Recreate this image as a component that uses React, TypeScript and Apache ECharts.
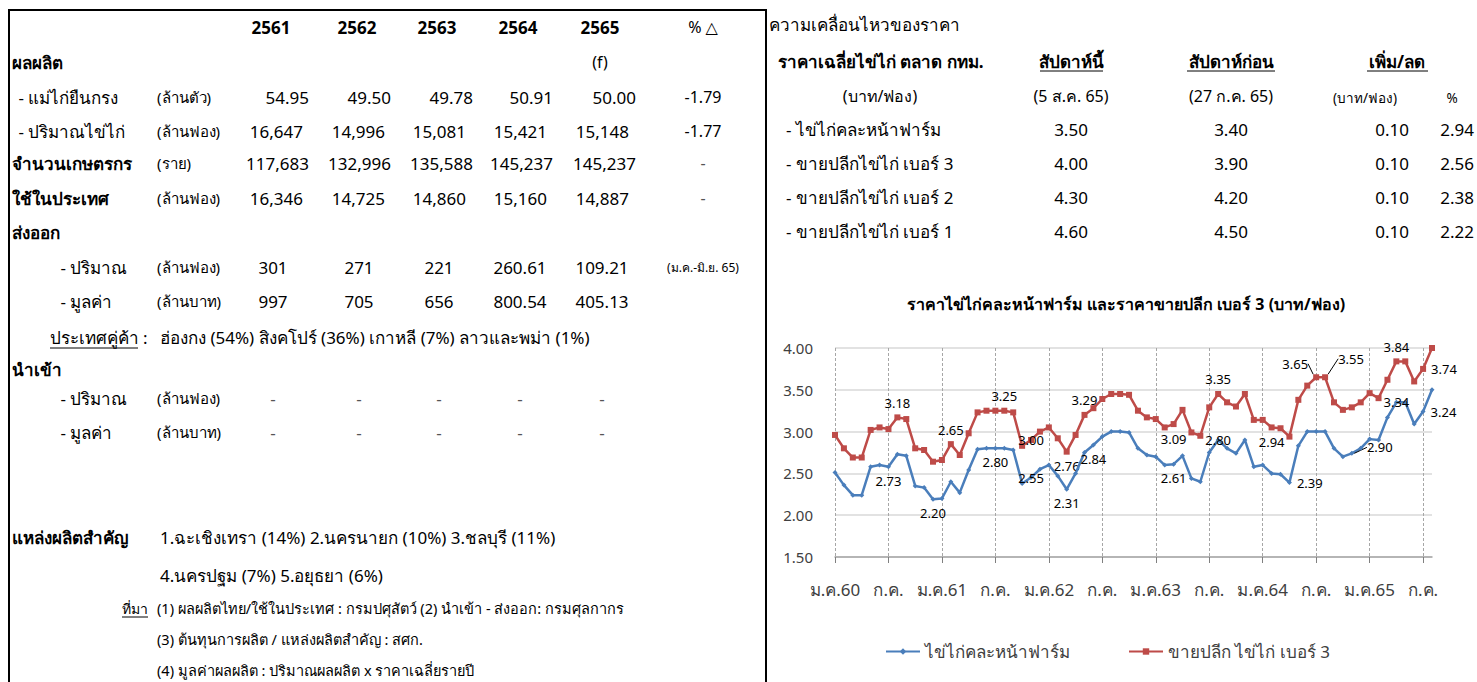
import React, { useEffect, useRef } from "react";
import * as echarts from "echarts";

const FONT = 'Tahoma, "Noto Sans", "DejaVu Sans", sans-serif';

// ---------- chart data ----------
const monthNames = ["ม.ค.", "ก.พ.", "มี.ค.", "เม.ย.", "พ.ค.", "มิ.ย.", "ก.ค.", "ส.ค.", "ก.ย.", "ต.ค.", "พ.ย.", "ธ.ค."];
const yearNames = ["60", "61", "62", "63", "64", "65"];
const monthCount = 68;
const categories: string[] = [];
for (let i = 0; i < monthCount; i++) {
  categories.push(monthNames[i % 12] + yearNames[Math.floor(i / 12)]);
}

const farmPrice = [
  2.51, 2.36, 2.24, 2.24, 2.58, 2.60, 2.58, 2.73, 2.71, 2.35, 2.33, 2.19,
  2.20, 2.40, 2.27, 2.54, 2.79, 2.80, 2.80, 2.80, 2.78, 2.38, 2.45, 2.55,
  2.60, 2.47, 2.31, 2.50, 2.75, 2.84, 2.94, 3.00, 3.00, 2.99, 2.80, 2.72,
  2.70, 2.60, 2.61, 2.71, 2.44, 2.40, 2.75, 2.90, 2.80, 2.74, 2.90, 2.58,
  2.60, 2.50, 2.49, 2.39, 2.83, 3.00, 3.00, 3.00, 2.80, 2.70, 2.74, 2.80,
  2.91, 2.90, 3.17, 3.35, 3.35, 3.09, 3.24, 3.50,
];
const retailNo3 = [
  2.96, 2.80, 2.69, 2.69, 3.02, 3.05, 3.03, 3.17, 3.15, 2.80, 2.78, 2.64,
  2.66, 2.85, 2.72, 2.98, 3.23, 3.25, 3.25, 3.25, 3.23, 2.83, 2.90, 3.00,
  3.05, 2.92, 2.76, 2.96, 3.20, 3.28, 3.39, 3.45, 3.45, 3.44, 3.25, 3.17,
  3.15, 3.05, 3.09, 3.26, 2.99, 2.95, 3.29, 3.45, 3.35, 3.30, 3.45, 3.14,
  3.14, 3.05, 3.04, 2.94, 3.38, 3.55, 3.65, 3.65, 3.35, 3.26, 3.29, 3.35,
  3.46, 3.40, 3.62, 3.84, 3.84, 3.60, 3.75, 4.00,
];

// data labels shown on the chart (index -> text)
const farmLabelIdx = [6, 11, 18, 22, 26, 29, 38, 43, 51, 58, 63, 66];
const farmLabelText = ["2.73", "2.20", "2.80", "2.55", "2.31", "2.84", "2.61", "2.80", "2.39", "2.90", "3.34", "3.24"];
const retailLabelIdx = [7, 13, 19, 22, 26, 28, 38, 43, 49, 54, 55, 63, 66];
const retailLabelText = ["3.18", "2.65", "3.25", "3.00", "2.76", "3.29", "3.09", "3.35", "2.94", "3.65", "3.55", "3.84", "3.74"];

// label placement (styling)
const farmLabelPos: any[] = [
  ["bottom", [0, 0]], ["bottom", [-3, 0]], ["bottom", [0, 8]], ["inside", [5, 3]],
  ["bottom", [4, 0]], ["bottom", [4, 5]], ["bottom", [3, 0]], ["inside", [2, 0]],
  ["right", [8, 0]], ["top", [0, 0], [28, 8]], ["inside", [3, -4]], ["right", [0, 13]],
];
const retailLabelPos: any[] = [
  ["top", [3, 0]], ["top", [3, 7]], ["top", [0, 0]], ["inside", [2, 0]],
  ["bottom", [0, 0]], ["top", [-2, -3]], ["bottom", [0, 0]], ["top", [4, 0]],
  ["bottom", [-2, 0]], ["top", [0, 0], [-21, 1]], ["top", [0, 0], [26, -4]],
  ["top", [6, 0]], ["right", [0, 7]],
];

// ---------- left table data ----------
const yearHeads = ["2561", "2562", "2563", "2564", "2565"];
const henValues = ["54.95", "49.50", "49.78", "50.91", "50.00"];
const eggValues = ["16,647", "14,996", "15,081", "15,421", "15,148"];
const farmerValues = ["117,683", "132,996", "135,588", "145,237", "145,237"];
const domesticValues = ["16,346", "14,725", "14,860", "15,160", "14,887"];
const exportQty = ["301", "271", "221", "260.61", "109.21"];
const exportVal = ["997", "705", "656", "800.54", "405.13"];
const importQty = ["-", "-", "-", "-", "-"];
const importVal = ["-", "-", "-", "-", "-"];
const pctChange = ["-1.79", "-1.77", "-", "-"];

// ---------- right table data ----------
const priceItems = ["- ไข่ไก่คละหน้าฟาร์ม", "- ขายปลีกไข่ไก่ เบอร์ 3", "- ขายปลีกไข่ไก่ เบอร์ 2", "- ขายปลีกไข่ไก่ เบอร์ 1"];
const thisWeek = ["3.50", "4.00", "4.30", "4.60"];
const lastWeek = ["3.40", "3.90", "4.20", "4.50"];
const diffBaht = ["0.10", "0.10", "0.10", "0.10"];
const diffPct = ["2.94", "2.56", "2.38", "2.22"];

// ---------- helpers ----------
function T(x: number, y: number, text: string, o: any = {}) {
  return {
    type: "text",
    x,
    y,
    silent: true,
    style: {
      text,
      fill: o.fill || "#000",
      fontSize: o.size || 17,
      fontWeight: o.bold ? "bold" : "normal",
      fontFamily: FONT,
      textAlign: o.align || "left",
      textVerticalAlign: "middle",
    },
  };
}
function L(x1: number, y1: number, x2: number, y2: number, w = 1) {
  return {
    type: "line",
    silent: true,
    shape: { x1, y1, x2, y2 },
    style: { stroke: "#000", lineWidth: w },
  };
}

function buildGraphic() {
  const g: any[] = [];
  // borders
  g.push(L(8, 10, 767, 10, 2));
  g.push(L(9, 10, 9, 682, 2));
  g.push(L(766, 10, 766, 682, 2));

  const C = [271, 357, 437, 518, 600];
  const RA = [303, 385, 466, 547, 629];
  const RB = [309, 391, 473, 553, 636];
  const P = 703;

  yearHeads.forEach((t, i) => g.push(T(C[i], 27, t, { bold: true, align: "center" })));
  g.push(T(P, 27, "% △", { align: "center", size: 16 }));

  g.push(T(12, 62, "ผลผลิต", { bold: true }));
  g.push(T(600, 62, "(f)", { align: "center", size: 16 }));

  g.push(T(14, 97, " - แม่ไก่ยืนกรง"));
  g.push(T(157, 97, "(ล้านตัว)", { size: 15 }));
  henValues.forEach((t, i) => g.push(T(RB[i], 97, t, { align: "right" })));
  g.push(T(P, 97, pctChange[0], { align: "center", size: 16 }));

  g.push(T(14, 131, " - ปริมาณไข่ไก่"));
  g.push(T(157, 131, "(ล้านฟอง)", { size: 15 }));
  eggValues.forEach((t, i) => g.push(T(RA[i], 131, t, { align: "right" })));
  g.push(T(P, 131, pctChange[1], { align: "center", size: 16 }));

  g.push(T(12, 163, "จำนวนเกษตรกร", { bold: true }));
  g.push(T(157, 163, "(ราย)", { size: 15 }));
  farmerValues.forEach((t, i) => g.push(T(RB[i], 163, t, { align: "right" })));
  g.push(T(P, 163, pctChange[2], { align: "center", size: 16, fill: "#555" }));

  g.push(T(12, 198, "ใช้ในประเทศ", { bold: true }));
  g.push(T(157, 198, "(ล้านฟอง)", { size: 15 }));
  domesticValues.forEach((t, i) => g.push(T(RA[i], 198, t, { align: "right" })));
  g.push(T(P, 198, pctChange[3], { align: "center", size: 16, fill: "#555" }));

  g.push(T(12, 232, "ส่งออก", { bold: true }));
  g.push(T(56, 267, " - ปริมาณ"));
  g.push(T(157, 267, "(ล้านฟอง)", { size: 15 }));
  exportQty.forEach((t, i) => g.push(T(C[i] + 2, 267, t, { align: "center" })));
  g.push(T(P, 267, "(ม.ค.-มิ.ย. 65)", { align: "center", size: 12 }));

  g.push(T(56, 301, " - มูลค่า"));
  g.push(T(157, 301, "(ล้านบาท)", { size: 15 }));
  exportVal.forEach((t, i) => g.push(T(C[i] + 2, 301, t, { align: "center" })));

  g.push(T(50, 337, "ประเทศคู่ค้า", {}));
  g.push(L(50, 348, 138, 348, 1));
  g.push(T(143, 337, ":", {}));
  g.push(T(160, 337, "ฮ่องกง (54%) สิงคโปร์ (36%) เกาหลี (7%) ลาวและพม่า (1%)"));

  g.push(T(12, 369, "นำเข้า", { bold: true }));
  g.push(T(56, 398, " - ปริมาณ"));
  g.push(T(157, 398, "(ล้านฟอง)", { size: 15 }));
  importQty.forEach((t, i) => g.push(T(C[i] + 2, 398, t, { align: "center", fill: "#555" })));
  g.push(T(56, 432, " - มูลค่า"));
  g.push(T(157, 432, "(ล้านบาท)", { size: 15 }));
  importVal.forEach((t, i) => g.push(T(C[i] + 2, 432, t, { align: "center", fill: "#555" })));

  g.push(T(12, 537, "แหล่งผลิตสำคัญ", { bold: true }));
  g.push(T(160, 537, "1.ฉะเชิงเทรา (14%) 2.นครนายก (10%) 3.ชลบุรี (11%)"));
  g.push(T(160, 575, "4.นครปฐม (7%) 5.อยุธยา (6%)"));

  g.push(T(122, 608, "ที่มา", { size: 14 }));
  g.push(L(122, 617, 148, 617, 1));
  g.push(T(157, 608, "(1) ผลผลิตไทย/ใช้ในประเทศ : กรมปศุสัตว์ (2) นำเข้า - ส่งออก: กรมศุลกากร", { size: 14.5 }));
  g.push(T(157, 639, "(3) ต้นทุนการผลิต / แหล่งผลิตสำคัญ : สศก.", { size: 14.5 }));
  g.push(T(157, 670, "(4) มูลค่าผลผลิต : ปริมาณผลผลิต x ราคาเฉลี่ยรายปี", { size: 14.5 }));

  // right top table
  g.push(T(769, 24, "ความเคลื่อนไหวของราคา", { size: 17 }));
  g.push(T(778, 61, "ราคาเฉลี่ยไข่ไก่ ตลาด กทม.", { size: 17, bold: true }));
  g.push(T(1071, 61, "สัปดาห์นี้", { size: 17, bold: true, align: "center" }));
  g.push(L(1040, 71, 1103, 71, 1));
  g.push(T(1231, 61, "สัปดาห์ก่อน", { size: 17, bold: true, align: "center" }));
  g.push(L(1187, 71, 1275, 71, 1));
  g.push(T(1397, 61, "เพิ่ม/ลด", { size: 17, bold: true, align: "center" }));
  g.push(L(1367, 71, 1428, 71, 1));

  g.push(T(880, 96, "(บาท/ฟอง)", { size: 16, align: "center" }));
  g.push(T(1071, 96, "(5 ส.ค. 65)", { size: 16, align: "center" }));
  g.push(T(1231, 96, "(27 ก.ค. 65)", { size: 16, align: "center" }));
  g.push(T(1365, 98, "(บาท/ฟอง)", { size: 13.5, align: "center" }));
  g.push(T(1452, 98, "%", { size: 13.5, align: "center" }));

  const rowsY = [129, 163, 197, 231];
  priceItems.forEach((t, i) => {
    g.push(T(786, rowsY[i], t, { size: 17 }));
    g.push(T(1071, rowsY[i], thisWeek[i], { size: 17, align: "center" }));
    g.push(T(1231, rowsY[i], lastWeek[i], { size: 17, align: "center" }));
    g.push(T(1409, rowsY[i], diffBaht[i], { size: 17, align: "right" }));
    g.push(T(1474, rowsY[i], diffPct[i], { size: 17, align: "right" }));
  });
  return g;
}

function withLabels(values: number[], idx: number[], texts: string[], pos: any[]) {
  return values.map((v, i) => {
    const k = idx.indexOf(i);
    if (k < 0) return v;
    const p = pos[k];
    const item: any = {
      value: v,
      label: {
        show: true,
        position: p[0],
        offset: p[1],
        formatter: texts[k],
      },
    };
    if (p[2]) item.labelLine = { show: true, lineStyle: { color: "#000", width: 1 } };
    return item;
  });
}

function makeLayout(idx: number[], pos: any[]) {
  return (params: any) => {
    const k = idx.indexOf(params.dataIndex);
    if (k >= 0 && pos[k][2]) return { dx: pos[k][2][0], dy: pos[k][2][1] };
    return {};
  };
}

const tickEvery = (i: number) => i % 6 === 0;

function buildOption(): any {
  return {
    animation: false,
    textStyle: { fontFamily: FONT },
    title: {
      text: "ราคาไข่ไก่คละหน้าฟาร์ม และราคาขายปลีก เบอร์ 3 (บาท/ฟอง)",
      left: 1121,
      top: 291,
      textAlign: "center",
      textStyle: { fontSize: 16, fontWeight: "bold", color: "#000", fontFamily: FONT },
    },
    legend: {
      left: 880,
      top: 638,
      itemGap: 58,
      itemWidth: 34,
      itemHeight: 8,
      textStyle: { fontSize: 17, color: "#404040", fontFamily: FONT },
      data: ["ไข่ไก่คละหน้าฟาร์ม", "ขายปลีก ไข่ไก่ เบอร์ 3"],
    },
    grid: { left: 835, right: 45, top: 348, bottom: 125, containLabel: false },
    xAxis: {
      type: "category",
      data: categories,
      boundaryGap: false,
      axisLine: { show: true, lineStyle: { color: "#a6a6a6", width: 1.5 } },
      axisTick: { show: true, interval: (i: number) => tickEvery(i), length: 6, lineStyle: { color: "#808080" } },
      splitLine: {
        show: true,
        interval: (i: number) => tickEvery(i),
        lineStyle: { color: "#a6a6a6", type: [3, 2], width: 1 },
      },
      axisLabel: {
        interval: (i: number) => tickEvery(i),
        margin: 24,
        fontSize: 17,
        color: "#404040",
        fontFamily: FONT,
        formatter: (v: string, i: number) => (i % 12 === 0 ? v : monthNames[i % 12]),
      },
    },
    yAxis: {
      type: "value",
      min: 1.5,
      max: 4,
      interval: 0.5,
      axisLine: { show: false },
      axisTick: { show: false },
      splitLine: { show: true, lineStyle: { color: "#d9d9d9", width: 1.5 } },
      axisLabel: {
        margin: 22,
        fontSize: 15,
        color: "#404040",
        fontFamily: FONT,
        formatter: (v: number) => v.toFixed(2),
      },
    },
    series: [
      {
        name: "ไข่ไก่คละหน้าฟาร์ม",
        type: "line",
        data: withLabels(farmPrice, farmLabelIdx, farmLabelText, farmLabelPos),
        symbol: "diamond",
        symbolSize: 5,
        showAllSymbol: true,
        itemStyle: { color: "#4a7ebb" },
        lineStyle: { color: "#4a7ebb", width: 2.5 },
        label: { show: false, fontSize: 13, color: "#000", fontFamily: FONT },
        labelLayout: makeLayout(farmLabelIdx, farmLabelPos),
        z: 3,
      },
      {
        name: "ขายปลีก ไข่ไก่ เบอร์ 3",
        type: "line",
        data: withLabels(retailNo3, retailLabelIdx, retailLabelText, retailLabelPos),
        symbol: "rect",
        symbolSize: 6,
        showAllSymbol: true,
        itemStyle: { color: "#be4b48" },
        lineStyle: { color: "#be4b48", width: 2.5 },
        label: { show: false, fontSize: 13, color: "#000", fontFamily: FONT },
        labelLayout: makeLayout(retailLabelIdx, retailLabelPos),
        z: 2,
      },
    ],
    graphic: { elements: buildGraphic() },
  };
}

export default function App() {
  const ref = useRef<HTMLDivElement>(null);
  useEffect(() => {
    document.body.style.margin = "0";
    const chart = echarts.init(ref.current as HTMLDivElement, null, { renderer: "svg" });
    chart.setOption(buildOption());
    return () => chart.dispose();
  }, []);
  return (
    <div
      ref={ref}
      style={{ position: "absolute", left: 0, top: 0, width: 1477, height: 682, background: "#fff" }}
    />
  );
}
